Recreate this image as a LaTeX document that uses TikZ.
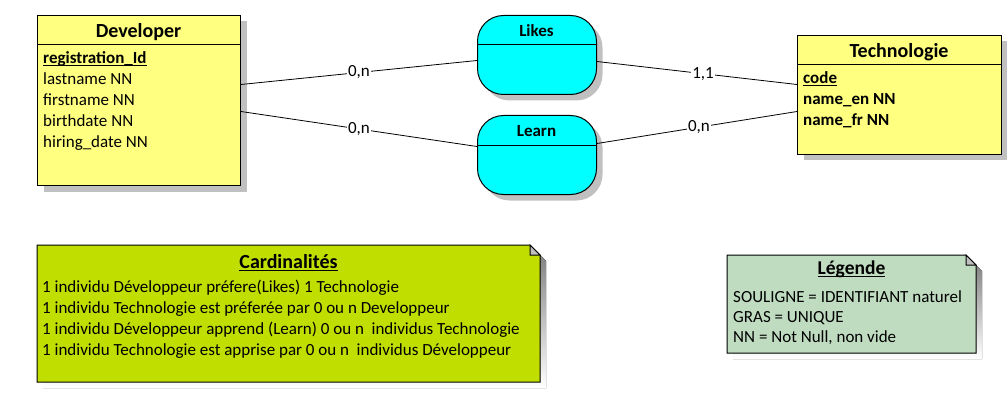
\documentclass[tikz,border=0pt]{standalone}
\usepackage{fontspec}
\setmainfont{Carlito}
\usetikzlibrary{shadows}
\definecolor{entyellow}{HTML}{FFFF80}
\definecolor{relcyan}{HTML}{00FFFF}
\definecolor{notegreen}{HTML}{C0DE00}
\definecolor{legendgreen}{HTML}{C0DCC0}
\definecolor{shade}{HTML}{C0C0C0}
\newcommand{\ul}[1]{\setbox0\hbox{#1}\rlap{\rule[-3pt]{\wd0}{1.4pt}}\box0}
\tikzset{
  base/.style={line width=1pt, draw=black},
  sh/.style={general shadow={fill=shade, shadow xshift=6pt, shadow yshift=-6pt}},
  entity/.style={base, sh, fill=entyellow, rectangle, anchor=north west, inner sep=0pt},
  relation/.style={base, sh, fill=relcyan, rectangle, rounded corners=26pt, anchor=north west, inner sep=0pt, minimum width=119pt, minimum height=79pt},
  etitle/.style={font=\fontsize{20}{24}\selectfont\bfseries, inner sep=0pt, anchor=base},
  rtitle/.style={font=\fontsize{17}{20}\selectfont\bfseries, inner sep=0pt, anchor=base},
  attr/.style={font=\fontsize{17}{20}\selectfont, anchor=base west, inner sep=0pt},
  card/.style={font=\fontsize{17}{20}\selectfont, fill=white, inner sep=1pt},
  link/.style={line width=0.8pt},
}
\begin{document}
\begin{tikzpicture}[x=1pt,y=-1pt]
\useasboundingbox (0,0) rectangle (1007,417);
% entities
\node[entity, minimum width=203pt, minimum height=170pt] (dev) at (37,15) {};
\draw[line width=1pt] (37,45) -- (240,45);
\node[etitle] (devt) at (138.5,37.5) {Developer};
\node[attr] (d1) at (43,63.5) {\textbf{\ul{registration\_Id}}};
\node[attr] (d2) at (43,84.5) {lastname NN};
\node[attr] (d3) at (43,105.5) {firstname NN};
\node[attr] (d4) at (43,126.5) {birthdate NN};
\node[attr] (d5) at (43,147.5) {hiring\_date NN};

\node[entity, minimum width=204pt, minimum height=119pt] (tech) at (797,35) {};
\draw[line width=1pt] (797,65) -- (1001,65);
\node[etitle] (techt) at (899,57.5) {Technologie};
\node[attr] (t1) at (803,83.5) {\textbf{\ul{code}}};
\node[attr] (t2) at (803,104.5) {\textbf{name\_en NN}};
\node[attr] (t3) at (803,125.5) {\textbf{name\_fr NN}};

% relations
\node[relation] (likes) at (477,15) {};
\draw[line width=1pt] (477,45) -- (596,45);
\node[rtitle] (likest) at (536.5,37) {Likes};
\node[relation] (learn) at (477,115) {};
\draw[line width=1pt] (477,146) -- (596,146);
\node[rtitle] (learnt) at (536.5,137) {Learn};

% links
\draw[link] ([yshift=16pt]dev.east) -- node[card]{0,n} ([yshift=-5.5pt]likes.west);
\draw[link] ([yshift=-11pt]dev.east) -- node[card]{0,n} ([yshift=8.5pt]learn.west);
\draw[link] ([yshift=-6.5pt]likes.east) -- node[card, pos=0.53]{1,1} ([yshift=10.5pt]tech.west);
\draw[link] ([yshift=11.5pt]learn.east) -- node[card, pos=0.51]{0,n} ([yshift=-16.5pt]tech.west);

% note Cardinalites
\fill[shade] (43,251) -- (536,251) -- (546,261) -- (546,388) -- (43,388) -- cycle;
\draw[base, fill=notegreen] (37,245) -- (530,245) -- (540,255) -- (540,382) -- (37,382) -- cycle;
\draw[base, fill=shade] (530,245) -- (540,255) -- (530,255) -- cycle;
\node[etitle] (cardt) at (288.5,268) {\ul{Cardinalités}};
\node[attr] (c1) at (42,292) {1 individu Développeur préfere(Likes) 1 Technologie};
\node[attr] (c2) at (42,313) {1 individu Technologie est préferée par 0 ou n Developpeur};
\node[attr] (c3) at (42,334) {1 individu Développeur apprend (Learn) 0 ou n\ \ individus Technologie};
\node[attr] (c4) at (42,355) {1 individu Technologie est apprise par 0 ou n\ \ individus Développeur};

% note Legende
\fill[shade] (733,261) -- (972,261) -- (982,271) -- (982,359) -- (733,359) -- cycle;
\draw[base, fill=legendgreen] (727,255) -- (966,255) -- (976,265) -- (976,353) -- (727,353) -- cycle;
\draw[base, fill=shade] (966,255) -- (976,265) -- (966,265) -- cycle;
\node[rtitle, font=\fontsize{19.5}{23}\selectfont\bfseries] (legt) at (851.5,274) {\ul{Légende}};
\node[attr] (l1) at (733,302) {SOULIGNE = IDENTIFIANT naturel};
\node[attr] (l2) at (733,322) {GRAS = UNIQUE};
\node[attr] (l3) at (733,342) {NN = Not Null, non vide};
\end{tikzpicture}
\end{document}
